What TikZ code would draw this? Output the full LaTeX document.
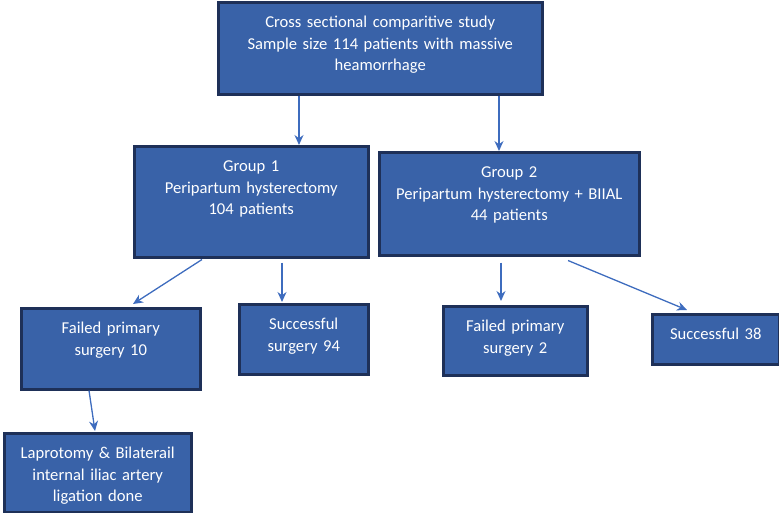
\documentclass[tikz,border=0pt]{standalone}
\usepackage{fontspec}
\setmainfont{Carlito}
\usetikzlibrary{arrows.meta,positioning,calc}
\definecolor{boxblue}{RGB}{57,98,168}
\definecolor{boxedge}{RGB}{30,48,88}
\definecolor{arrblue}{RGB}{62,108,190}

\begin{document}
\begin{tikzpicture}[x=1pt,y=-1pt,>={Stealth[length=10pt,width=9pt]},
  font=\fontsize{16.6}{21.8}\selectfont,
  box/.style={draw=boxedge,line width=2.5pt,fill=boxblue,text=white,align=center,
    inner sep=0pt,anchor=north west,text height=25pt},
  arr/.style={->,draw=arrblue,line width=1.3pt}]
  \useasboundingbox (0,0) rectangle (779,512);
  % boxes
  \node[box,text width=324pt,text depth=67pt] (study) at (217,1)
    {Cross sectional comparitive study\\Sample size 114 patients with massive\\heamorrhage};
  \node[box,text width=234pt,text depth=86pt] (grpone) at (133,145)
    {Group 1\\Peripartum hysterectomy\\104 patients};
  \node[box,text width=260pt,text depth=78pt] (grptwo) at (378,151)
    {Group 2\\Peripartum hysterectomy + BIIAL\\44 patients};
  \node[box,text width=179pt,text depth=56pt] (failten) at (20,307)
    {Failed primary\\surgery 10};
  \node[box,text width=129pt,text depth=45pt] (succ94) at (238,303)
    {Successful\\surgery 94};
  \node[box,text width=144pt,text depth=44pt] (failtwo) at (442,305)
    {Failed primary\\surgery 2};
  \node[box,text width=127pt,text depth=25pt] (succ38) at (651,313)
    {Successful 38};
  \node[box,text width=187pt,text depth=54pt] (laprot) at (3,432)
    {Laprotomy \& Bilaterail\\internal iliac artery\\ligation done};
  % arrows
  \draw[arr] ([xshift=82pt]study.south west) -- ([xshift=82pt]study.south west |- grpone.north);
  \draw[arr] ([xshift=282pt]study.south west) -- ([xshift=282pt]study.south west |- grptwo.north);
  \draw[arr] ([xshift=69pt,yshift=-1pt]grpone.south west) -- ([xshift=113pt,yshift=3pt]failten.north west);
  \draw[arr] ([xshift=149pt,yshift=-4pt]grpone.south west) -- ([xshift=44pt,yshift=1pt]succ94.north west);
  \draw[arr] ([xshift=123pt,yshift=-6pt]grptwo.south west) -- ([xshift=59pt,yshift=4pt]failtwo.north west);
  \draw[arr] ([xshift=190pt,yshift=-4pt]grptwo.south west) -- ([xshift=36pt,yshift=3pt]succ38.north west);
  \draw[arr] ([xshift=69pt]failten.south west) -- ([xshift=92pt,yshift=1pt]laprot.north west);
\end{tikzpicture}
\end{document}
